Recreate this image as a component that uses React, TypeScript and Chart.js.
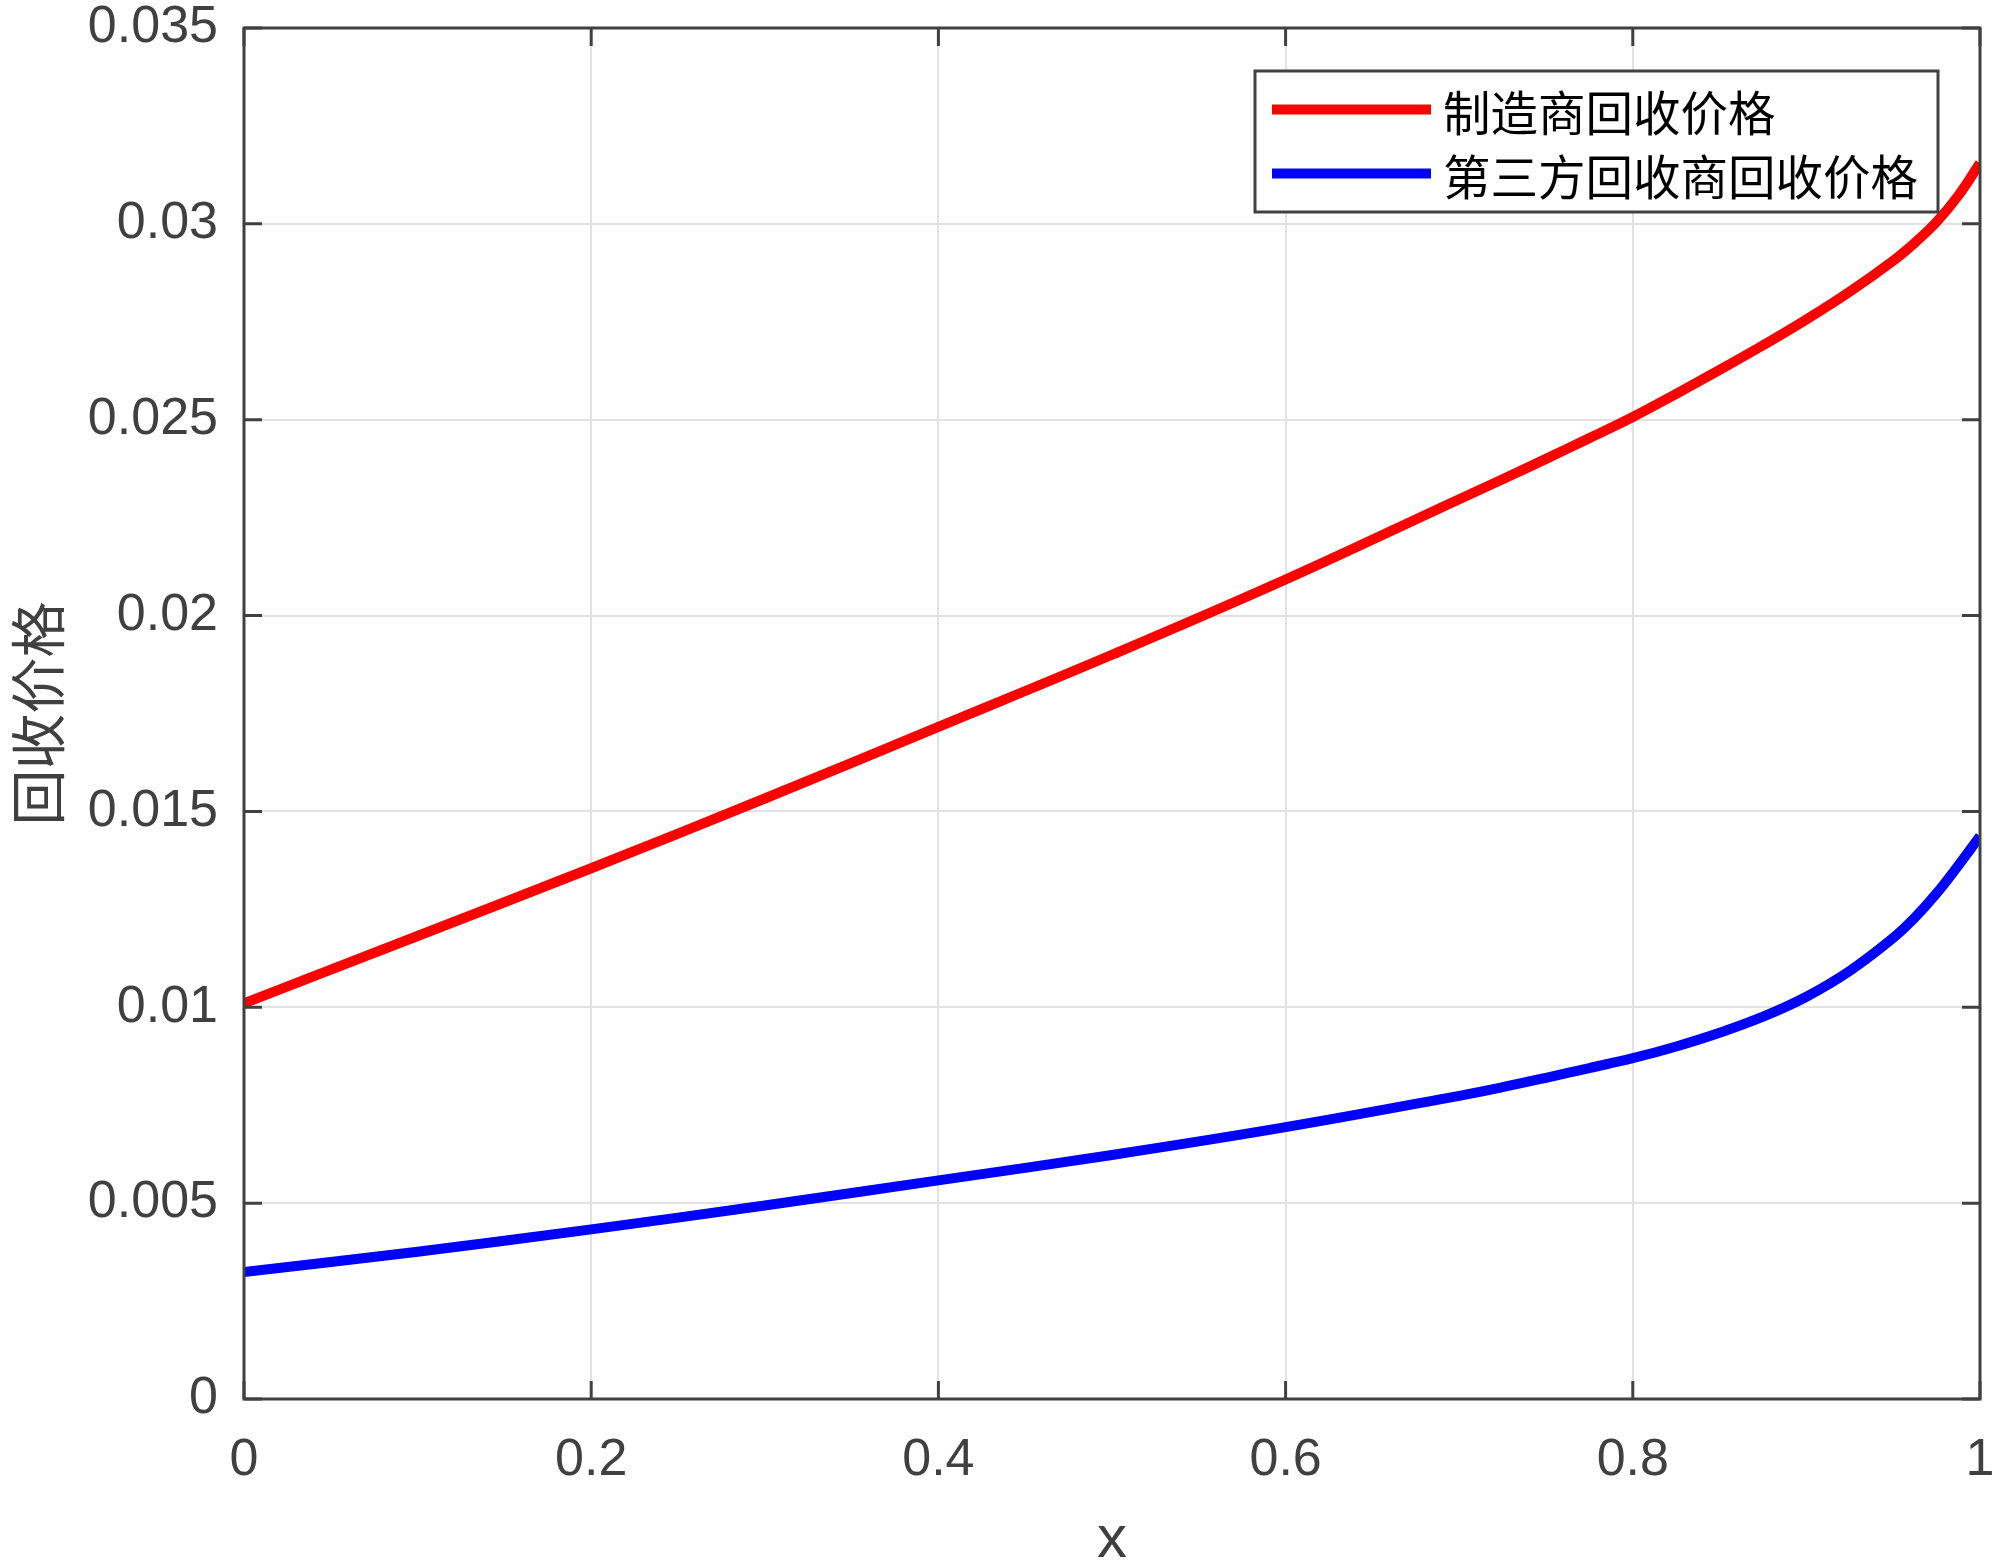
import React, { useEffect, useRef } from "react";
import { Chart, registerables } from "chart.js";

Chart.register(...registerables);

const xValues = [0, 0.1, 0.2, 0.3, 0.4, 0.5, 0.6, 0.7, 0.725, 0.75, 0.775, 0.8, 0.825, 0.85, 0.875, 0.9, 0.925, 0.95, 0.9625, 0.975, 0.9875, 1.0];
const manufacturerPrice = [0.0101, 0.01182, 0.01355, 0.01533, 0.01716, 0.019, 0.02092, 0.02297, 0.02348, 0.024, 0.02453, 0.02507, 0.02566, 0.02627, 0.0269, 0.02756, 0.02827, 0.02906, 0.02952, 0.03005, 0.03072, 0.03155];
const thirdPartyPrice = [0.00324, 0.00376, 0.00433, 0.00494, 0.00558, 0.00623, 0.00694, 0.00774, 0.00796, 0.0082, 0.00845, 0.0087, 0.009, 0.00935, 0.00976, 0.01027, 0.01093, 0.01177, 0.01229, 0.01291, 0.01362, 0.01437];
const seriesLabels = ["制造商回收价格", "第三方回收商回收价格"];
const seriesColors = ["#ff0000", "#0000ff"];
const xTicks = [0, 0.2, 0.4, 0.6, 0.8, 1];
const yTicks = [0, 0.005, 0.01, 0.015, 0.02, 0.025, 0.03, 0.035];
const xTitle = "x";
const yTitle = "回收价格";

const AXIS_COLOR = "#404040";
const LATIN = "'Liberation Sans', Arial, sans-serif";
const CJK = "'Noto Sans CJK SC', 'Noto Sans', sans-serif";

const boxPlugin = {
  id: "matlabBox",
  afterDatasetsDraw(chart: any) {
    const { ctx, chartArea } = chart;
    const { left, right, top, bottom } = chartArea;
    const xs = chart.scales.x;
    const ys = chart.scales.y;
    const tl = 18;
    ctx.save();
    ctx.strokeStyle = AXIS_COLOR;
    ctx.lineWidth = 3;
    ctx.beginPath();
    for (const v of xTicks) {
      const px = xs.getPixelForValue(v);
      ctx.moveTo(px, bottom);
      ctx.lineTo(px, bottom - tl);
      ctx.moveTo(px, top);
      ctx.lineTo(px, top + tl);
    }
    for (const v of yTicks) {
      const py = ys.getPixelForValue(v);
      ctx.moveTo(left, py);
      ctx.lineTo(left + tl, py);
      ctx.moveTo(right, py);
      ctx.lineTo(right - tl, py);
    }
    ctx.stroke();
    ctx.strokeRect(left, top, right - left, bottom - top);
    ctx.restore();
  },
};

const legendPlugin = {
  id: "innerLegend",
  afterDraw(chart: any) {
    const { ctx, chartArea } = chart;
    const bw = 683;
    const bh = 141;
    const bx = chartArea.right - 42 - bw;
    const by = chartArea.top + 43;
    ctx.save();
    ctx.fillStyle = "#ffffff";
    ctx.fillRect(bx, by, bw, bh);
    ctx.strokeStyle = AXIS_COLOR;
    ctx.lineWidth = 3;
    ctx.strokeRect(bx, by, bw, bh);
    const rows = [38.6, 102.6];
    chart.data.datasets.forEach((ds: any, i: number) => {
      const y = by + rows[i];
      ctx.strokeStyle = ds.borderColor;
      ctx.lineWidth = 10;
      ctx.lineCap = "butt";
      ctx.beginPath();
      ctx.moveTo(bx + 17, y);
      ctx.lineTo(bx + 176, y);
      ctx.stroke();
      ctx.fillStyle = "#000000";
      ctx.font = `47.5px ${CJK}`;
      ctx.textAlign = "left";
      ctx.textBaseline = "middle";
      ctx.fillText(ds.label, bx + 188, y + 3);
    });
    ctx.restore();
  },
};

export default function App() {
  const canvasRef = useRef<HTMLCanvasElement | null>(null);

  useEffect(() => {
    document.body.style.margin = "0";
    const canvas = canvasRef.current;
    if (!canvas) return;
    const datasets = [manufacturerPrice, thirdPartyPrice].map((vals, i) => ({
      label: seriesLabels[i],
      data: xValues.map((x, j) => ({ x, y: vals[j] })),
      borderColor: seriesColors[i],
      backgroundColor: seriesColors[i],
      borderWidth: 10,
      pointRadius: 0,
      fill: false,
      tension: 0.4,
      cubicInterpolationMode: "default" as const,
      borderCapStyle: "butt" as const,
    }));
    const chart = new Chart(canvas, {
      type: "line",
      data: { datasets },
      plugins: [boxPlugin, legendPlugin],
      options: {
        animation: false,
        responsive: false,
        maintainAspectRatio: false,
        devicePixelRatio: 1,
        layout: { padding: { top: 28, right: 20, left: 0, bottom: 0 } },
        plugins: { legend: { display: false }, tooltip: { enabled: false } },
        scales: {
          x: {
            type: "linear",
            min: 0,
            max: 1,
            afterBuildTicks: (scale: any) => {
              scale.ticks = xTicks.map((v) => ({ value: v }));
            },
            afterFit: (scale: any) => {
              scale.height = 165;
              scale.paddingLeft = 0;
              scale.paddingRight = 0;
            },
            ticks: {
              color: AXIS_COLOR,
              font: { family: LATIN, size: 52 },
              padding: 30,
              maxRotation: 0,
              callback: (v: any) => String(v),
            },
            grid: { color: "#e2e2e2", lineWidth: 2, drawTicks: false },
            border: { display: false },
            title: {
              display: true,
              text: xTitle,
              color: AXIS_COLOR,
              font: { family: LATIN, size: 60, lineHeight: 1 },
              padding: { top: 0, bottom: -6 },
            },
          },
          y: {
            type: "linear",
            min: 0,
            max: 0.035,
            afterBuildTicks: (scale: any) => {
              scale.ticks = yTicks.map((v) => ({ value: v }));
            },
            afterFit: (scale: any) => {
              scale.width = 244;
              scale.paddingTop = 0;
              scale.paddingBottom = 0;
            },
            ticks: {
              color: AXIS_COLOR,
              font: { family: LATIN, size: 52 },
              padding: 26,
              callback: (v: any) => String(Number(v.toFixed(3))),
            },
            grid: { color: "#e2e2e2", lineWidth: 2, drawTicks: false },
            border: { display: false },
            title: {
              display: true,
              text: yTitle,
              color: AXIS_COLOR,
              font: { family: CJK, size: 56, lineHeight: 1 },
              padding: { top: 10, bottom: 0 },
            },
          },
        },
      },
    });
    return () => chart.destroy();
  }, []);

  return (
    <div style={{ width: 2000, height: 1564, background: "#fff" }}>
      <canvas ref={canvasRef} width={2000} height={1564} style={{ display: "block" }} />
    </div>
  );
}
